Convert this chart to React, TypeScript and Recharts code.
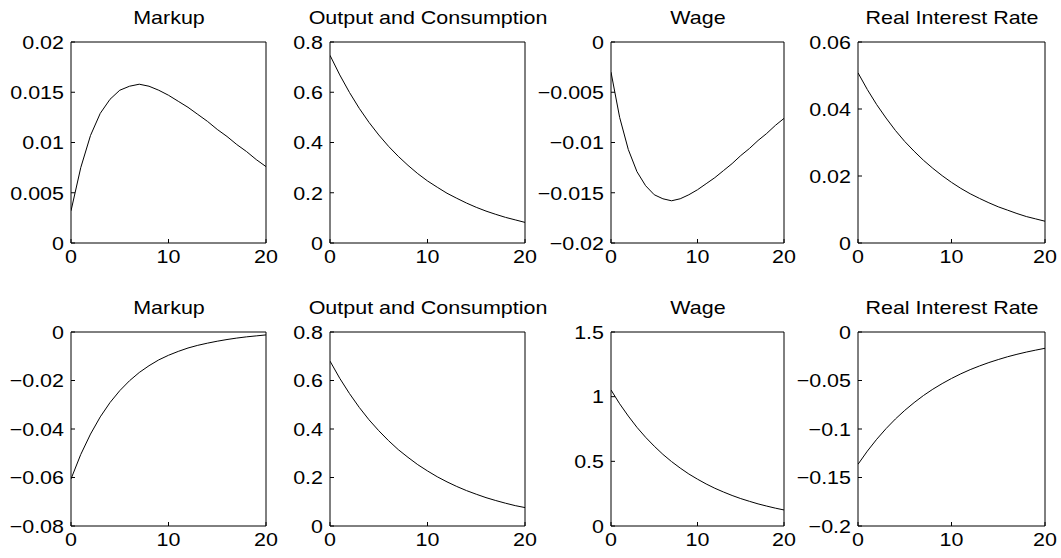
import { LineChart, Line, XAxis, YAxis } from "recharts";

// impulse responses, periods 0..20
const steps = [0, 1, 2, 3, 4, 5, 6, 7, 8, 9, 10, 11, 12, 13, 14, 15, 16, 17, 18, 19, 20];
const xTicks = [0, 10, 20];

// top row
const markupA = [0.0032, 0.0075, 0.0107, 0.0129, 0.0143, 0.0152, 0.0156, 0.0158, 0.0156, 0.0152, 0.0147,
  0.0141, 0.0135, 0.0128, 0.0121, 0.0113, 0.0106, 0.0098, 0.0091, 0.0083, 0.0076];
const outputA = [0.747, 0.669, 0.599, 0.536, 0.48, 0.43, 0.385, 0.345, 0.309, 0.276, 0.247,
  0.222, 0.198, 0.178, 0.159, 0.142, 0.127, 0.114, 0.102, 0.092, 0.082];
const wageA = [-0.003, -0.0075, -0.0107, -0.0129, -0.0143, -0.0152, -0.0156, -0.0158, -0.0156, -0.0152, -0.0147,
  -0.0141, -0.0135, -0.0128, -0.0121, -0.0113, -0.0106, -0.0098, -0.0091, -0.0083, -0.0076];
const rateA = [0.0508, 0.0458, 0.0413, 0.0373, 0.0336, 0.0303, 0.0274, 0.0247, 0.0223, 0.0201, 0.0181,
  0.0163, 0.0147, 0.0133, 0.012, 0.0108, 0.0098, 0.0088, 0.0079, 0.0072, 0.0065];

// bottom row
const markupB = [-0.0606, -0.0505, -0.0421, -0.035, -0.0291, -0.0242, -0.0201, -0.0167, -0.0139, -0.0115, -0.0096,
  -0.008, -0.0066, -0.0055, -0.0046, -0.0038, -0.0031, -0.0025, -0.002, -0.0016, -0.0012];
const outputB = [0.68, 0.609, 0.546, 0.489, 0.438, 0.393, 0.352, 0.315, 0.283, 0.253, 0.227,
  0.203, 0.182, 0.163, 0.146, 0.131, 0.117, 0.105, 0.094, 0.084, 0.076];
const wageB = [1.052, 0.945, 0.85, 0.763, 0.686, 0.617, 0.554, 0.498, 0.448, 0.402, 0.362,
  0.325, 0.292, 0.263, 0.236, 0.212, 0.191, 0.171, 0.154, 0.138, 0.124];
const rateB = [-0.1364, -0.1228, -0.1106, -0.0996, -0.0897, -0.0808, -0.0728, -0.0655, -0.059, -0.0532, -0.0479,
  -0.0431, -0.0388, -0.035, -0.0315, -0.0284, -0.0255, -0.023, -0.0207, -0.0187, -0.0168];

const ticksMarkupA = [0, 0.005, 0.01, 0.015, 0.02];
const ticksOutput = [0, 0.2, 0.4, 0.6, 0.8];
const ticksWageA = [-0.02, -0.015, -0.01, -0.005, 0];
const ticksRateA = [0, 0.02, 0.04, 0.06];
const ticksMarkupB = [-0.08, -0.06, -0.04, -0.02, 0];
const ticksWageB = [0, 0.5, 1, 1.5];
const ticksRateB = [-0.2, -0.15, -0.1, -0.05, 0];

const FONT = '"Liberation Sans", Arial, Helvetica, sans-serif';
const FS = 19;
const STRETCH = 1.13; // the original glyphs are a bit wider than Arial
const YW = 90;
const TOP = 14;
const XH = 30;
const RIGHT = 20;

const fmt = (v: number) => String(v).replace("-", "\u2212");

function XTick(props: any) {
  const { x, y, payload } = props;
  return (
    <text transform={`translate(${x},${y}) scale(${STRETCH},1)`} textAnchor="middle" dy="0.71em"
      fontSize={FS} fontFamily={FONT} fill="#000">
      {fmt(payload.value)}
    </text>
  );
}

function YTick(props: any) {
  const { x, y, payload } = props;
  return (
    <text transform={`translate(${x},${y}) scale(${STRETCH},1)`} textAnchor="end" dy="0.355em"
      fontSize={FS} fontFamily={FONT} fill="#000">
      {fmt(payload.value)}
    </text>
  );
}

function Panel({ box, title, values, yTicks }: { box: number[]; title: string; values: number[]; yTicks: number[] }) {
  const [left, top, w, h] = box;
  const data = steps.map((t, i) => ({ t, v: values[i] }));
  const domain = [yTicks[0], yTicks[yTicks.length - 1]];
  return (
    <>
      <div
        style={{
          position: "absolute", left: left + w / 2 - 200, width: 400, top: top - 34,
          textAlign: "center", fontSize: FS, lineHeight: `${FS}px`, fontFamily: FONT,
          whiteSpace: "nowrap", transform: `scaleX(${STRETCH})`, color: "#000",
        }}
      >
        {title}
      </div>
      <div style={{ position: "absolute", left: left - YW, top: top - TOP }}>
        <LineChart width={w + YW + 1 + RIGHT} height={h + TOP + XH} data={data}
          margin={{ top: TOP - 1, right: RIGHT, bottom: 0, left: 0 }}>
          <XAxis dataKey="t" type="number" domain={[0, 20]} ticks={xTicks} interval={0}
            tickSize={-4} tickMargin={10} tick={XTick} stroke="#000" height={XH} allowDataOverflow />
          <XAxis xAxisId="top" orientation="top" type="number" domain={[0, 20]} ticks={xTicks} interval={0}
            tickSize={-4} tick={false} stroke="#000" height={1} allowDataOverflow />
          <YAxis type="number" domain={domain} ticks={yTicks} interval={0}
            tickSize={-4} tickMargin={11} tick={YTick} stroke="#000" width={YW} allowDataOverflow />
          <YAxis yAxisId="right" orientation="right" type="number" domain={domain} ticks={yTicks} interval={0}
            tickSize={-4} tick={false} stroke="#000" width={1} allowDataOverflow />
          <Line dataKey="v" type="linear" stroke="#000" strokeWidth={1} dot={false} isAnimationActive={false} />
        </LineChart>
      </div>
    </>
  );
}

export default function App() {
  return (
    <div style={{ position: "absolute", left: 0, top: 0, width: 1061, height: 558, background: "#fff", overflow: "hidden" }}>
      <Panel box={[71, 42, 195, 201]} title="Markup" values={markupA} yTicks={ticksMarkupA} />
      <Panel box={[330, 42, 195, 201]} title="Output and Consumption" values={outputA} yTicks={ticksOutput} />
      <Panel box={[611, 42, 173, 201]} title="Wage" values={wageA} yTicks={ticksWageA} />
      <Panel box={[858, 42, 187, 201]} title="Real Interest Rate" values={rateA} yTicks={ticksRateA} />

      <Panel box={[71, 332, 195, 194]} title="Markup" values={markupB} yTicks={ticksMarkupB} />
      <Panel box={[330, 332, 195, 194]} title="Output and Consumption" values={outputB} yTicks={ticksOutput} />
      <Panel box={[611, 332, 173, 194]} title="Wage" values={wageB} yTicks={ticksWageB} />
      <Panel box={[858, 332, 187, 194]} title="Real Interest Rate" values={rateB} yTicks={ticksRateB} />
    </div>
  );
}
